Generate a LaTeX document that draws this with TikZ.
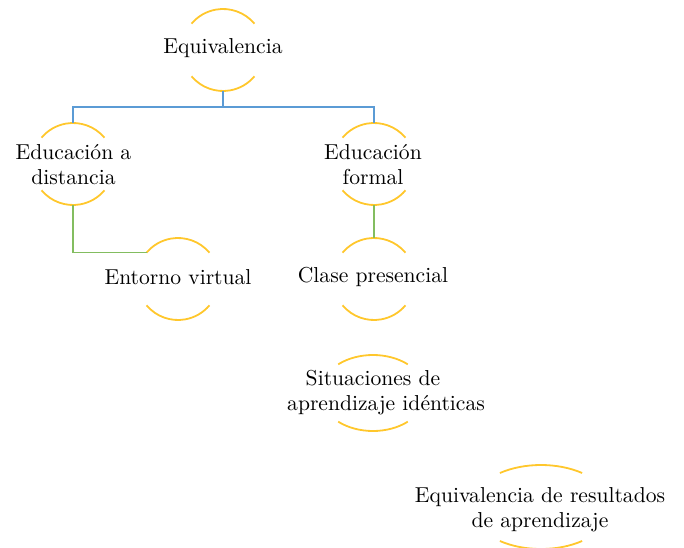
\documentclass[tikz,border=0pt]{standalone}
\definecolor{haloc}{RGB}{255,199,44}
\definecolor{bluec}{RGB}{91,155,213}
\definecolor{greenc}{RGB}{131,189,96}
\tikzset{
 halo/.style={draw=haloc,line width=0.9pt},
 lbl/.style={font=\fontsize{10.8}{12.5}\selectfont,align=center,inner sep=0pt},
 blueline/.style={draw=bluec,line width=1pt},
 greenline/.style={draw=greenc,line width=0.8pt}
}
\newcommand\drawhalo[6]{%
 \coordinate (#1) at (#2,#3);
 \coordinate (#1-n) at (#2,#3+#5);
 \coordinate (#1-s) at (#2,#3-#5);
 \coordinate (#1-nw) at ([shift={(#2,#3)}]180-#6:#4 and #5);
 \draw[halo] ([shift={(#2,#3)}]#6:#4 and #5) arc[start angle=#6,end angle=180-#6,x radius=#4,y radius=#5];
 \draw[halo] ([shift={(#2,#3)}]180+#6:#4 and #5) arc[start angle=180+#6,end angle=360-#6,x radius=#4,y radius=#5];
}
\begin{document}
\begin{tikzpicture}[x=0.5pt,y=0.5pt]
\useasboundingbox (0,0) rectangle (684,547);
\drawhalo{eq}{223}{497}{41}{41}{40}
\drawhalo{eda}{73}{383}{41}{41}{40}
\drawhalo{ef}{374}{383}{41}{41}{40}
\drawhalo{ev}{178}{268}{41}{41}{40}
\drawhalo{cp}{374}{268}{41}{41}{40}
\drawhalo{sit}{373}{154}{53}{38}{49}
\drawhalo{er}{541}{40}{70}{42}{54}
\node[lbl] (eqt) at (223,499) {Equivalencia};
\node[lbl] (edat) at (73.5,382.5) {Educación a\\distancia};
\node[lbl] (eft) at (373,382.5) {Educación\\formal};
\node[lbl] (evt) at (178,270) {Entorno virtual};
\node[lbl] (cpt) at (373,270) {Clase presencial};
\node[lbl] (sitt) at (386,154.5) {Situaciones de\hspace*{13pt}\\aprendizaje idénticas};
\node[lbl] (ert) at (540,37) {Equivalencia de resultados\\de aprendizaje};
\draw[blueline] (eq-s) -- ++(0,-16) -| (eda-n);
\draw[blueline] (eq-s) -- ++(0,-16) -| (ef-n);
\draw[greenline] (eda-s) |- (ev-nw);
\draw[greenline] (ef-s) -- (cp-n);
\end{tikzpicture}
\end{document}
